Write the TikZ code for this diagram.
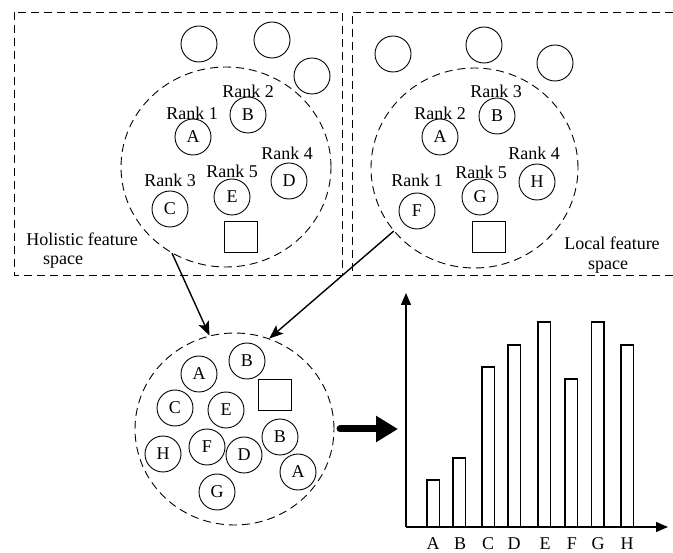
\documentclass[tikz,border=0pt]{standalone}
\usepackage{fontspec}
\setmainfont{Liberation Serif}
\usetikzlibrary{arrows.meta,shapes.geometric}
\begin{document}
\begin{tikzpicture}[x=1pt,y=-1pt,
  font=\fontsize{18}{20}\selectfont,
  line width=0.9pt,
  circ/.style={circle,draw,minimum size=36pt,inner sep=0pt},
  sq/.style={draw,minimum width=33pt,minimum height=31pt,inner sep=0pt},
  dash box/.style={dash pattern=on 8pt off 5pt,line width=0.9pt},
  region/.style={ellipse,draw,dash pattern=on 8pt off 5pt,inner sep=0pt},
  lbl/.style={inner sep=0pt},
  conn/.style={line width=1.4pt,-{Stealth[length=14pt,width=11pt,inset=3pt]}},
  axis/.style={line width=1.1pt,-{Triangle[length=12pt,width=10pt]}},
  bar/.style={draw,line width=1.1pt}]
\useasboundingbox (0,0) rectangle (673,553);
% dashed boxes
\draw[dash box] (14,12) rectangle (342,275);
\draw[dash box] (673,12) -- (352,12) -- (352,275) -- (673,275);
% ---------- holistic space ----------
\node[circ] (ht1) at (199,44) {};
\node[circ] (ht2) at (272,40) {};
\node[circ] (ht3) at (312,76) {};
\node[region,minimum width=210pt,minimum height=200pt] (holE) at (226,167) {};
\node[lbl] (hr2) at (248,91) {Rank 2};
\node[circ] (hB) at (248,115) {B};
\node[lbl] (hr1) at (192,113) {Rank 1};
\node[circ] (hA) at (193,137) {A};
\node[lbl] (hr4) at (287,153) {Rank 4};
\node[circ] (hD) at (289,181) {D};
\node[lbl] (hr5) at (232,171) {Rank 5};
\node[circ] (hE) at (232,197) {E};
\node[lbl] (hr3) at (170,180) {Rank 3};
\node[circ] (hC) at (170,209) {C};
\node[sq] (hsq) at (241,237) {};
\node[lbl] (htx1) at (82,239) {Holistic feature};
\node[lbl] (htx2) at (63,262) {space};
% ---------- local space ----------
\node[circ] (lt1) at (393,54) {};
\node[circ] (lt2) at (484,45) {};
\node[circ] (lt3) at (555,63) {};
\node[region,minimum width=207pt,minimum height=200pt] (locE) at (474.5,168) {};
\node[lbl] (lr3) at (496,91) {Rank 3};
\node[circ] (lB) at (497,116) {B};
\node[lbl] (lr2) at (440,113) {Rank 2};
\node[circ] (lA) at (440,137) {A};
\node[lbl] (lr4) at (534,153) {Rank 4};
\node[circ] (lH) at (537,182) {H};
\node[lbl] (lr5) at (481,172) {Rank 5};
\node[circ] (lG) at (480,197) {G};
\node[lbl] (lr1) at (417,180) {Rank 1};
\node[circ] (lF) at (417,211) {F};
\node[sq] (lsq) at (489,237) {};
\node[lbl] (ltx1) at (612,243) {Local feature};
\node[lbl,fill=white,inner sep=1.5pt] (ltx2) at (608,267) {space};
% ---------- merged space ----------
\node[region,minimum width=199pt,minimum height=192pt] (botE) at (234.5,429) {};
\node[circ] (bA) at (199,374) {A};
\node[circ] (bB) at (247,361) {B};
\node[circ] (bC) at (175,408) {C};
\node[circ] (bE) at (226,410) {E};
\node[sq] (bsq) at (274.5,394.5) {};
\node[circ] (bB2) at (280,437) {B};
\node[circ] (bH) at (163,454) {H};
\node[circ] (bF) at (207,447) {F};
\node[circ] (bD) at (244,455) {D};
\node[circ] (bA2) at (298,472) {A};
\node[circ] (bG) at (217,492) {G};
% connectors
\draw[conn] (holE.238) -- (botE.105);
\draw[conn] (locE.218) -- (botE.69);
\coordinate (thS) at (340,429);
\coordinate (thE) at (398,429);
\draw[line width=7pt,line cap=round,-{Triangle[length=22pt,width=25pt]}] (thS) -- (thE);
% ---------- histogram ----------
\coordinate (O) at (406,527);
\coordinate (Ytop) at (406,293);
\coordinate (Xend) at (668,527);
\draw[axis] (O) -- (Ytop);
\draw[axis] (O) -- (Xend);
\draw[bar] (427,527) rectangle (439.5,480);
\draw[bar] (453,527) rectangle (465.5,458);
\draw[bar] (482,527) rectangle (494.5,367);
\draw[bar] (508,527) rectangle (520.5,345);
\draw[bar] (538,527) rectangle (550.5,322);
\draw[bar] (565,527) rectangle (577.5,379);
\draw[bar] (591.5,527) rectangle (604,322);
\draw[bar] (621,527) rectangle (633.5,345);
\node[lbl] (xa) at (433,543.5) {A};
\node[lbl] (xb) at (460,543.5) {B};
\node[lbl] (xc) at (488,543.5) {C};
\node[lbl] (xd) at (514,543.5) {D};
\node[lbl] (xe) at (545,543.5) {E};
\node[lbl] (xf) at (572,543.5) {F};
\node[lbl] (xg) at (598,543.5) {G};
\node[lbl] (xh) at (627,543.5) {H};
\end{tikzpicture}
\end{document}
